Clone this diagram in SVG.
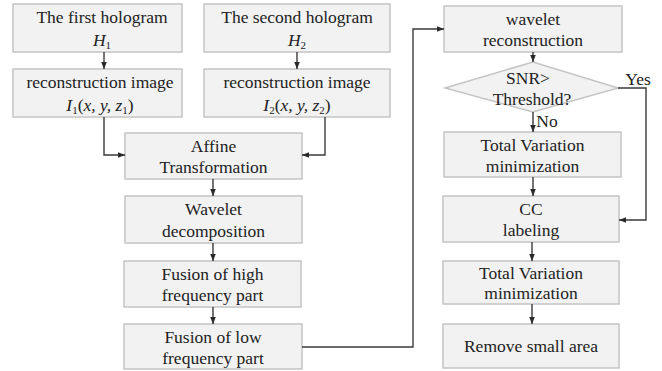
<svg xmlns="http://www.w3.org/2000/svg" width="662" height="371" viewBox="0 0 662 371">
<style>
.box{fill:#f2f2f2;stroke:#c4c4c4;stroke-width:1.5}
.t{font-family:'Liberation Serif','Times New Roman',serif;font-size:17.5px;fill:#222;text-anchor:middle}
.m{font-style:italic}
.c{fill:none;stroke:#3a3a3a;stroke-width:1.4}
</style>
<defs>
<marker id="a" viewBox="0 0 10 10" refX="10" refY="5" markerWidth="7" markerHeight="7" markerUnits="userSpaceOnUse" orient="auto"><path d="M0,1 L10,5 L0,9 z" fill="#2a2a2a"/></marker>
</defs>
<rect width="662" height="371" fill="#fff"/>
<g id="n1"><rect class="box" x="13" y="4" width="169" height="48"/><text class="t" x="102" y="23">The first hologram</text><text class="t m" x="102" y="46">H<tspan font-size="11" dy="3" font-style="normal">1</tspan></text></g>
<g id="n2"><rect class="box" x="204" y="4" width="186" height="48"/><text class="t" x="297" y="23">The second hologram</text><text class="t m" x="297" y="46">H<tspan font-size="11" dy="3" font-style="normal">2</tspan></text></g>
<g id="n3"><rect class="box" x="13" y="69" width="169" height="48"/><text class="t" x="100" y="88">reconstruction image</text><text class="t m" x="100" y="111">I<tspan font-size="11" dy="3" font-style="normal">1</tspan><tspan dy="-3" font-style="normal">(</tspan>x, y, z<tspan font-size="11" dy="3" font-style="normal">1</tspan><tspan dy="-3" font-style="normal">)</tspan></text></g>
<g id="n4"><rect class="box" x="204" y="69" width="186" height="48"/><text class="t" x="297" y="88">reconstruction image</text><text class="t m" x="297" y="111">I<tspan font-size="11" dy="3" font-style="normal">2</tspan><tspan dy="-3" font-style="normal">(</tspan>x, y, z<tspan font-size="11" dy="3" font-style="normal">2</tspan><tspan dy="-3" font-style="normal">)</tspan></text></g>
<g id="n5"><rect class="box" x="125" y="133" width="177" height="46"/><text class="t" x="213.5" y="152">Affine</text><text class="t" x="213.5" y="173">Transformation</text></g>
<g id="n6"><rect class="box" x="125" y="196" width="177" height="47"/><text class="t" x="213.5" y="215">Wavelet</text><text class="t" x="213.5" y="237">decomposition</text></g>
<g id="n7"><rect class="box" x="124" y="261" width="177" height="46"/><text class="t" x="212.5" y="280">Fusion of high</text><text class="t" x="212.5" y="301">frequency part</text></g>
<g id="n8"><rect class="box" x="124" y="324" width="178" height="45"/><text class="t" x="213" y="343">Fusion of low</text><text class="t" x="213" y="364">frequency part</text></g>
<g id="n9"><rect class="box" x="444" y="6" width="178" height="46"/><text class="t" x="533" y="25">wavelet</text><text class="t" x="533" y="46">reconstruction</text></g>
<g id="n10"><polygon class="box" points="445,88 533,62 618,88 533,112"/><text class="t" x="528" y="84" font-size="17">SNR&gt;</text><text class="t" x="532" y="105" font-size="17">Threshold?</text></g>
<g id="n11"><rect class="box" x="444" y="132" width="177" height="45"/><text class="t" x="532.5" y="151">Total Variation</text><text class="t" x="532.5" y="172">minimization</text></g>
<g id="n12"><rect class="box" x="443" y="196" width="176" height="46"/><text class="t" x="531" y="215">CC</text><text class="t" x="531" y="236">labeling</text></g>
<g id="n13"><rect class="box" x="443" y="261" width="176" height="43"/><text class="t" x="531" y="279">Total Variation</text><text class="t" x="531" y="299">minimization</text></g>
<g id="n14"><rect class="box" x="443" y="324" width="176" height="44"/><text class="t" x="531" y="352">Remove small area</text></g>
<g id="connectors">
<line class="c" x1="104" y1="52" x2="104" y2="69" marker-end="url(#a)"/>
<line class="c" x1="297" y1="52" x2="297" y2="69" marker-end="url(#a)"/>
<polyline class="c" points="104,117 104,155 125,155" marker-end="url(#a)"/>
<polyline class="c" points="325,117 325,155 302,155" marker-end="url(#a)"/>
<line class="c" x1="213" y1="179" x2="213" y2="196" marker-end="url(#a)"/>
<line class="c" x1="213" y1="243" x2="213" y2="261" marker-end="url(#a)"/>
<line class="c" x1="213" y1="307" x2="213" y2="324" marker-end="url(#a)"/>
<polyline class="c" points="302,347 413,347 413,29 444,29" marker-end="url(#a)"/>
<line class="c" x1="533" y1="52" x2="533" y2="62" marker-end="url(#a)"/>
<line class="c" x1="533" y1="112" x2="533" y2="132" marker-end="url(#a)"/>
<text class="t" x="547" y="127">No</text>
<polyline class="c" points="618,88 646,88 646,220 619,220" marker-end="url(#a)"/>
<text class="t" x="638" y="85">Yes</text>
<line class="c" x1="533" y1="177" x2="533" y2="196" marker-end="url(#a)"/>
<line class="c" x1="532" y1="242" x2="532" y2="261" marker-end="url(#a)"/>
<line class="c" x1="532" y1="304" x2="532" y2="324" marker-end="url(#a)"/>
</g>
</svg>
